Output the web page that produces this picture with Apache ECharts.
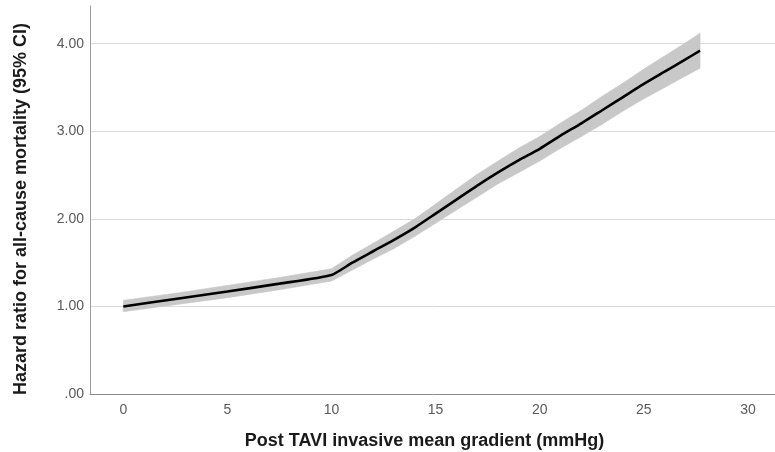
<!DOCTYPE html>
<html>
<head>
<meta charset="utf-8">
<script src="https://cdn.jsdelivr.net/npm/echarts@6/dist/echarts.min.js"></script>
<style>
  html, body { margin: 0; padding: 0; background: #fff; }
  #chart { width: 775px; height: 452px; }
</style>
</head>
<body>
<div id="chart"></div>
<script>
// Post-TAVI mean gradient (mmHg)
const gradient = [0, 2.5, 5, 7.5, 10, 11, 12, 13, 14, 15, 16, 17, 18, 19, 20, 21, 22, 23, 24, 25, 26, 27, 27.7];
// Hazard ratio estimate
const hazard   = [1.00, 1.085, 1.17, 1.26, 1.36, 1.50, 1.63, 1.76, 1.90, 2.06, 2.22, 2.38, 2.53, 2.67, 2.80, 2.95, 3.09, 3.24, 3.39, 3.54, 3.68, 3.82, 3.92];
// 95% confidence limits
const ciLower  = [0.94, 1.02, 1.10, 1.19, 1.29, 1.415, 1.54, 1.66, 1.80, 1.95, 2.10, 2.25, 2.40, 2.53, 2.66, 2.805, 2.94, 3.08, 3.23, 3.37, 3.50, 3.63, 3.72];
const ciUpper  = [1.07, 1.15, 1.24, 1.33, 1.43, 1.585, 1.72, 1.86, 2.00, 2.17, 2.34, 2.51, 2.66, 2.81, 2.94, 3.095, 3.24, 3.40, 3.55, 3.71, 3.86, 4.01, 4.12];

const xTicks = [0, 5, 10, 15, 20, 25, 30];
const yTicks = [0, 1, 2, 3, 4];

const FONT = 'Liberation Sans, Arial, sans-serif';
const BAND = '#c8c8c8';

const chart = echarts.init(document.getElementById('chart'), null, { renderer: 'canvas' });

const bandRows = gradient.map((g, i) => [g, ciLower[i], ciUpper[i]]);
const linePts  = gradient.map((g, i) => [g, hazard[i]]);

// Confidence band: one filled quad per interval between consecutive points
function renderBand(params, api) {
  const i = params.dataIndex;
  if (i >= bandRows.length - 1) return null;
  const a = bandRows[i], b = bandRows[i + 1];
  const pts = [
    api.coord([a[0], a[1]]),
    api.coord([b[0], b[1]]),
    api.coord([b[0], b[2]]),
    api.coord([a[0], a[2]])
  ];
  return {
    type: 'polygon',
    shape: { points: pts },
    style: { fill: BAND, stroke: BAND, lineWidth: 0.6 }
  };
}

chart.setOption({
  animation: false,
  backgroundColor: '#ffffff',
  grid: { left: 90, right: 0, top: 6, bottom: 58, containLabel: false, outerBoundsMode: 'none' },
  xAxis: {
    type: 'value',
    min: -1.6,
    max: 31.3,
    name: 'Post TAVI invasive mean gradient (mmHg)',
    nameLocation: 'middle',
    nameGap: 38,
    nameTextStyle: { fontFamily: FONT, fontSize: 18, fontWeight: 'bold', color: '#1a1a1a', padding: [0, 16, 0, 0] },
    axisLine: { show: true, onZero: false, lineStyle: { color: '#8c8c8c', width: 1 } },
    axisTick: { show: false, customValues: xTicks },
    axisLabel: {
      customValues: xTicks,
      margin: 9,
      fontFamily: FONT,
      fontSize: 14,
      color: '#5a5a5a'
    },
    splitLine: { show: false }
  },
  yAxis: {
    type: 'value',
    min: 0,
    max: 4.43,
    name: 'Hazard ratio for all-cause mortality (95% CI)',
    nameLocation: 'middle',
    nameGap: 60,
    nameRotate: 90,
    nameTextStyle: { fontFamily: FONT, fontSize: 18, fontWeight: 'bold', color: '#1a1a1a', padding: [0, 18, 0, 0] },
    axisLine: { show: true, onZero: false, lineStyle: { color: '#9a9a9a', width: 1 } },
    axisTick: { show: false, customValues: yTicks },
    axisLabel: {
      customValues: yTicks,
      margin: 6,
      fontFamily: FONT,
      fontSize: 14,
      color: '#5a5a5a',
      formatter: v => (v === 0 ? '.00' : v.toFixed(2))
    },
    splitLine: { show: true, lineStyle: { color: '#d9d9d9', width: 1 } }
  },
  series: [
    {
      name: '95% CI',
      type: 'custom',
      data: bandRows,
      encode: { x: 0, y: [1, 2] },
      renderItem: renderBand,
      silent: true,
      z: 2
    },
    {
      name: 'Hazard ratio',
      type: 'line',
      data: linePts,
      symbol: 'none',
      smooth: 0.2,
      lineStyle: { color: '#000000', width: 2.6 },
      z: 3
    }
  ]
});
</script>
</body>
</html>
